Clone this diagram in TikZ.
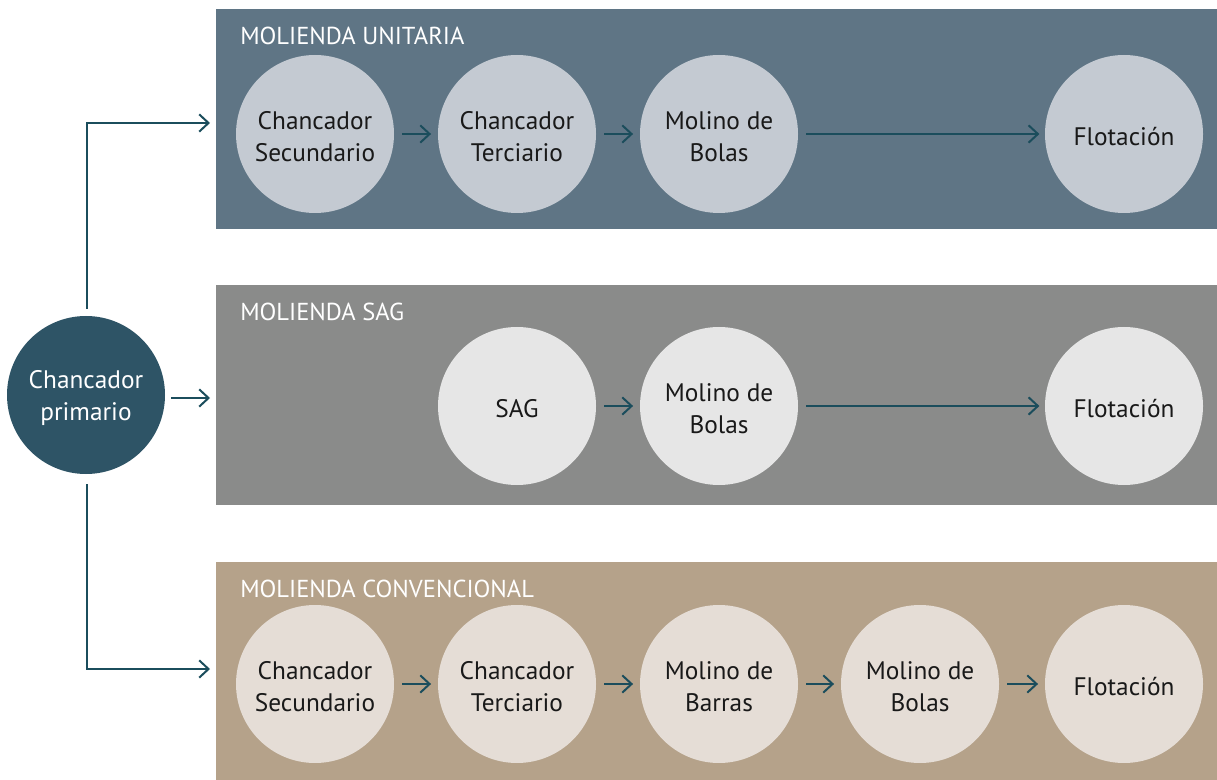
\documentclass[tikz,border=0pt]{standalone}
\usepackage{fontspec}
\setmainfont{PT Sans}
\usetikzlibrary{arrows.meta}
\definecolor{panelA}{HTML}{5F7585}
\definecolor{panelB}{HTML}{8A8B8A}
\definecolor{panelC}{HTML}{B5A28A}
\definecolor{circA}{HTML}{C4CAD2}
\definecolor{circB}{HTML}{E6E6E6}
\definecolor{circC}{HTML}{E5DDD6}
\definecolor{primC}{HTML}{2E5466}
\definecolor{arrC}{HTML}{1B4D5C}
\begin{document}
\begin{tikzpicture}[x=0.75pt,y=-0.75pt,
  stagetext/.style={align=center,inner sep=0pt,yshift=-2pt,
    font=\fontsize{19}{24}\selectfont,text=black!90},
  stage/.style={circle,minimum size=118.5pt,inner sep=0pt,
    label={[stagetext]center:#1}},
  primtext/.style={stagetext,text=white},
  title/.style={anchor=west,text=white,font=\fontsize{18.4}{22}\selectfont,inner sep=0pt},
  flow/.style={draw=arrC,line width=1.7pt,-{Straight Barb[length=7pt,width=13pt,line width=1.5pt]}}]
\useasboundingbox (0,0) rectangle (1217,780);
% panels
\fill[panelA] (216,9) rectangle (1217,229);
\fill[panelB] (216,285) rectangle (1217,505);
\fill[panelC] (216,562) rectangle (1217,780);
\node[title] (tA) at (240,36) {MOLIENDA UNITARIA};
\node[title] (tB) at (240,312) {MOLIENDA SAG};
\node[title] (tC) at (240,589) {MOLIENDA CONVENCIONAL};
% primary
\node[circle,minimum size=118.5pt,inner sep=0pt,fill=primC,
  label={[primtext]center:Chancador\\primario}] (p) at (86,395) {};
% row A
\node[stage={Chancador\\Secundario},fill=circA] (a1) at (315,134) {};
\node[stage={Chancador\\Terciario},fill=circA] (a2) at (517,134) {};
\node[stage={Molino de\\Bolas},fill=circA] (a3) at (719,134) {};
\node[stage={Flotación},fill=circA] (a4) at (1124,134) {};
% row B
\node[stage={SAG},fill=circB] (b2) at (517,406) {};
\node[stage={Molino de\\Bolas},fill=circB] (b3) at (719,406) {};
\node[stage={Flotación},fill=circB] (b4) at (1124,406) {};
% row C
\node[stage={Chancador\\Secundario},fill=circC] (c1) at (315,684) {};
\node[stage={Chancador\\Terciario},fill=circC] (c2) at (517,684) {};
\node[stage={Molino de\\Barras},fill=circC] (c3) at (719,684) {};
\node[stage={Molino de\\Bolas},fill=circC] (c4) at (920,684) {};
\node[stage={Flotación},fill=circC] (c5) at (1124,684) {};
% entry points
\coordinate (eA) at (210,123);
\coordinate (eB) at (210,398);
\coordinate (eC) at (210,669);
\coordinate (tp) at (87,309);
\coordinate (bp) at (87,484);
\coordinate (pm) at (171,398);
\draw[flow] (tp) |- (eA);
\draw[flow] (bp) |- (eC);
\draw[flow] (pm) -- (eB);
% row arrows
\draw[flow] ([xshift=6pt]a1.east) -- ([xshift=-5pt]a2.west);
\draw[flow] ([xshift=6pt]a2.east) -- ([xshift=-5pt]a3.west);
\draw[flow] ([xshift=6pt]a3.east) -- ([xshift=-4pt]a4.west);
\draw[flow] ([xshift=6pt]b2.east) -- ([xshift=-5pt]b3.west);
\draw[flow] ([xshift=6pt]b3.east) -- ([xshift=-4pt]b4.west);
\draw[flow] ([xshift=6pt]c1.east) -- ([xshift=-5pt]c2.west);
\draw[flow] ([xshift=6pt]c2.east) -- ([xshift=-5pt]c3.west);
\draw[flow] ([xshift=6pt]c3.east) -- ([xshift=-5pt]c4.west);
\draw[flow] ([xshift=6pt]c4.east) -- ([xshift=-5pt]c5.west);
\end{tikzpicture}
\end{document}
